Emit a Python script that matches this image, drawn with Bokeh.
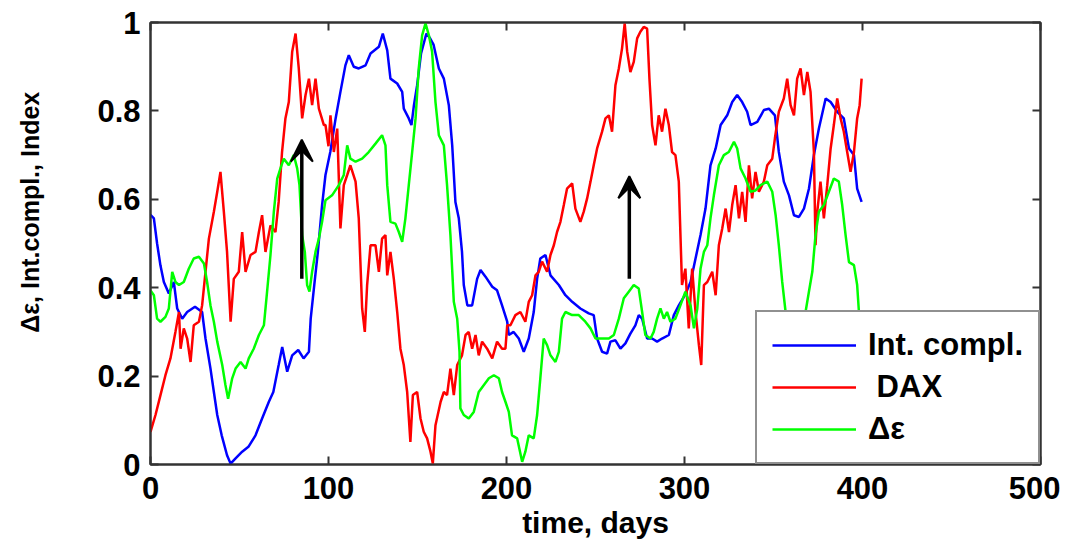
from bokeh.plotting import figure
from bokeh.models import (ColumnDataSource, Legend, LegendItem, Arrow, VeeHead,
                          LinearAxis, FixedTicker, CustomJSTickFormatter, Range1d)
from bokeh.embed import file_html
from bokeh.resources import INLINE

# ---------------- data ----------------
blue_days = [0, 1.9, 3.7, 5.6, 7.5, 10.3, 13.1, 15, 17.8, 20.6, 25, 29, 30.9, 33.7, 35.6, 37.5,
             40, 43, 45, 47.8, 51.5, 55, 59, 62.7, 66.5, 69, 72, 74, 76.8, 79.6, 83, 86, 89, 90,
             92, 94, 96.4, 98.3, 101, 104, 106.7, 109.5, 111.4, 114.2, 117, 120.8, 123.6, 128.3,
             130.5, 133, 134.8, 138.6, 141.4, 142.3, 145.1, 146.6, 148, 149.8, 152, 155, 157, 159,
             162, 164.8, 167.6, 169.5, 171.3, 173.2, 175, 176, 178, 180.7, 183.5, 185.4, 188.2,
             192, 194.7, 197.5, 200.4, 201.3, 204, 206.9, 209.7, 212.5, 215.3, 217.2, 219, 221.9,
             224.7, 229.4, 233.1, 236.9, 241.5, 246.2, 249, 250.9, 253.7, 256.5, 258.4, 261.2,
             264, 266.8, 269.6, 272.4, 274.3, 276.2, 279, 281.8, 284.6, 287.4, 291.2, 294, 296.8,
             300.5, 303.4, 306.2, 309, 311.8, 314.6, 317.5, 320.3, 324, 326.8, 329.6, 332.4,
             335.2, 337.1, 340.9, 344.6, 347.4, 350.8, 353, 355.8, 358.7, 361.5, 364.3, 367.1,
             369.9, 372.7, 375.5, 379.3, 382.1, 385.8, 389.5, 392.4, 395.2, 397, 399.5]
blue_vals = [0.565, 0.557, 0.50, 0.45, 0.413, 0.387, 0.413, 0.353, 0.33, 0.345, 0.357, 0.345,
             0.285, 0.217, 0.164, 0.112, 0.066, 0.021, 0.002, 0.014, 0.029, 0.04, 0.066, 0.104,
             0.142, 0.164, 0.225, 0.266, 0.21, 0.247, 0.259, 0.24, 0.255, 0.33, 0.406, 0.48,
             0.587, 0.655, 0.707, 0.783, 0.843, 0.903, 0.926, 0.90, 0.896, 0.903, 0.93, 0.945,
             0.975, 0.937, 0.873, 0.862, 0.843, 0.805, 0.783, 0.768, 0.813, 0.858, 0.93, 0.975,
             0.965, 0.95, 0.896, 0.873, 0.813, 0.722, 0.594, 0.557, 0.481, 0.406, 0.36, 0.36,
             0.42, 0.44, 0.425, 0.402, 0.394, 0.36, 0.323, 0.293, 0.30, 0.285, 0.255, 0.285,
             0.345, 0.42, 0.466, 0.474, 0.428, 0.406, 0.383, 0.368, 0.353, 0.342, 0.338, 0.285,
             0.255, 0.251, 0.278, 0.281, 0.262, 0.274, 0.296, 0.315, 0.338, 0.33, 0.285, 0.285,
             0.278, 0.285, 0.293, 0.338, 0.36, 0.385, 0.413, 0.466, 0.519, 0.579, 0.677, 0.715,
             0.768, 0.79, 0.82, 0.836, 0.82, 0.798, 0.768, 0.775, 0.802, 0.805, 0.79, 0.707,
             0.64, 0.609, 0.564, 0.56, 0.579, 0.624, 0.70, 0.76, 0.828, 0.82, 0.798, 0.783,
             0.715, 0.70, 0.624, 0.594]

red_days = [0, 2.8, 5.6, 8.4, 11.2, 14, 16, 16.9, 18.7, 20.6, 22.5, 24.3, 27.2, 29, 30.9, 32.8,
            35.6, 37.5, 39.3, 41.2, 43, 45, 46.8, 49.6, 51.5, 53.4, 56.2, 59, 60.9, 62.7, 64.6,
            67.4, 70.2, 72, 73.9, 75.8, 77.7, 79.6, 81.5, 83.3, 85.2, 87.1, 89, 90.8, 92.7, 94.6,
            97.4, 98.3, 100, 101.1, 103, 104.9, 106.7, 108.6, 110.5, 112.3, 115.2, 117, 118.9,
            120.4, 121.7, 123.6, 126.4, 128.3, 130.1, 132, 133, 134.8, 136.7, 138.6, 140.4, 142.3,
            144.2, 146, 147.4, 149.8, 151.7, 153.5, 155.4, 157.3, 158.6, 160.1, 163, 164.8, 166.6,
            168.5, 170.4, 172.3, 175, 177, 178.8, 180.7, 182.6, 184.4, 186.3, 189.1, 192, 194.7,
            197.5, 199.4, 200.4, 202.2, 205, 207.8, 210.6, 212.5, 214.4, 216.3, 218.1, 220, 222.8,
            224.7, 226.6, 228.4, 230.3, 232.2, 234, 236.9, 238.7, 241.5, 243.4, 245.3, 247.2, 249,
            250.9, 253.7, 255.6, 257.5, 259.3, 261.2, 263.1, 264.9, 266.4, 267.8, 269.6, 271.5,
            273.4, 275.2, 277.1, 279, 280.3, 281.8, 283.7, 285.5, 287.4, 289.3, 291.2, 293, 294.9,
            296.8, 298.6, 300.5, 302.4, 304.3, 306.2, 308.1, 309.4, 310.9, 312.8, 315.6, 317.5,
            319.3, 321.2, 323.1, 325, 326.8, 328.7, 330.6, 332.4, 334.3, 336.2, 338, 339.9, 341.8,
            344.6, 346.5, 349.3, 350.8, 353, 355.8, 357.7, 359.6, 361.5, 363.3, 365.2, 367.1, 369,
            370.8, 372.7, 373.6, 374.6, 376.4, 378.3, 380.2, 382.1, 383.9, 385.8, 387.7, 389.5,
            391.4, 393.3, 395.2, 397, 398.4, 399.5]
red_vals = [0.074, 0.112, 0.157, 0.202, 0.24, 0.30, 0.345, 0.262, 0.308, 0.285, 0.232, 0.315,
            0.323, 0.36, 0.436, 0.511, 0.572, 0.617, 0.662, 0.572, 0.481, 0.323, 0.42, 0.436,
            0.526, 0.436, 0.474, 0.481, 0.526, 0.564, 0.481, 0.541, 0.526, 0.594, 0.707, 0.783,
            0.82, 0.934, 0.975, 0.896, 0.783, 0.836, 0.873, 0.813, 0.873, 0.805, 0.768, 0.768,
            0.72, 0.79, 0.707, 0.76, 0.534, 0.632, 0.655, 0.677, 0.64, 0.557, 0.353, 0.30, 0.406,
            0.496, 0.496, 0.436, 0.511, 0.519, 0.428, 0.481, 0.42, 0.345, 0.262, 0.225, 0.164,
            0.051, 0.157, 0.164, 0.104, 0.074, 0.059, 0.029, 0.002, 0.089, 0.142, 0.164, 0.157,
            0.217, 0.157, 0.225, 0.247, 0.293, 0.30, 0.262, 0.293, 0.247, 0.278, 0.262, 0.24,
            0.278, 0.262, 0.262, 0.315, 0.315, 0.338, 0.345, 0.323, 0.368, 0.383, 0.428, 0.436,
            0.459, 0.436, 0.474, 0.496, 0.526, 0.549, 0.587, 0.624, 0.636, 0.579, 0.549, 0.572,
            0.602, 0.64, 0.677, 0.715, 0.753, 0.783, 0.79, 0.753, 0.858, 0.896, 0.941, 0.998,
            0.934, 0.888, 0.911, 0.964, 0.979, 0.99, 0.986, 0.873, 0.768, 0.722, 0.79, 0.753,
            0.805, 0.768, 0.707, 0.70, 0.64, 0.406, 0.443, 0.308, 0.443, 0.345, 0.27, 0.225,
            0.406, 0.413, 0.436, 0.383, 0.496, 0.534, 0.579, 0.526, 0.587, 0.632, 0.557, 0.617,
            0.549, 0.677, 0.602, 0.662, 0.617, 0.64, 0.677, 0.692, 0.738, 0.798, 0.828, 0.873,
            0.813, 0.79, 0.873, 0.896, 0.836, 0.888, 0.843, 0.707, 0.496, 0.572, 0.64, 0.557,
            0.632, 0.715, 0.768, 0.828, 0.783, 0.753, 0.707, 0.662, 0.707, 0.783, 0.813, 0.873]

green_days = [0, 1.9, 3.7, 5.6, 8.4, 10.3, 12.2, 14, 16, 18.7, 21.5, 24.3, 27.2, 30, 31.8, 33.7,
              35.6, 37.5, 40.3, 42.1, 43.6, 45.9, 47.8, 50.6, 53.4, 55.2, 58, 60.9, 63.7, 65.5,
              67.4, 69.3, 71.2, 73, 74.9, 77.7, 80.5, 82.4, 83.7, 85.2, 86.7, 88, 89.3, 90.8,
              92.7, 94.6, 96.4, 98.3, 102, 105.8, 108.6, 110.5, 112.3, 115.2, 118.9, 122.6, 126.4,
              130.1, 132, 133, 134.8, 137.6, 139.5, 141.4, 143.2, 145.1, 147, 148.9, 150.7, 152.6,
              154.5, 156.4, 158.2, 160.1, 162, 164.8, 166.6, 168.5, 170.4, 172.3, 173.6, 174.1,
              176, 178.8, 181.6, 184.4, 187.3, 190.1, 192.9, 195.7, 197.5, 199.4, 201.3, 203.1,
              206, 208.8, 210.6, 212.5, 215.3, 217.2, 219, 220.9, 222.8, 224.7, 227.5, 229.4,
              231.2, 233.1, 236.9, 240.6, 244.3, 247.2, 250, 253.7, 257.5, 260.3, 263.1, 265.9,
              268.7, 271.5, 274.3, 276.2, 278, 280.9, 282.7, 284.6, 286.5, 288.4, 290.2, 292.1,
              294.9, 297.7, 300.5, 303.4, 305.3, 307.2, 309, 310.9, 312.8, 314.6, 316.5, 319.3,
              322.1, 324.9, 327.8, 329.6, 331.5, 334.3, 337.1, 339.9, 342.7, 346.5, 349.3, 351.2,
              353, 354.9, 356.8, 360, 364, 368, 369.9, 371.8, 373.6, 375.5, 378.3, 381.1, 383.9,
              386.7, 388.6, 390.5, 392.4, 395.2, 397, 398, 400]
green_vals = [0.394, 0.383, 0.33, 0.323, 0.334, 0.353, 0.436, 0.413, 0.406, 0.413, 0.443, 0.466,
              0.47, 0.455, 0.413, 0.36, 0.323, 0.278, 0.225, 0.18, 0.149, 0.195, 0.217, 0.232,
              0.217, 0.24, 0.262, 0.293, 0.315, 0.391, 0.474, 0.572, 0.647, 0.67, 0.692, 0.677,
              0.70, 0.67, 0.632, 0.519, 0.481, 0.406, 0.391, 0.436, 0.481, 0.511, 0.549, 0.598,
              0.609, 0.632, 0.655, 0.722, 0.692, 0.685, 0.692, 0.707, 0.726, 0.745, 0.722, 0.632,
              0.549, 0.545, 0.526, 0.504, 0.557, 0.632, 0.707, 0.783, 0.896, 0.971, 0.998, 0.971,
              0.934, 0.82, 0.745, 0.722, 0.632, 0.519, 0.368, 0.33, 0.255, 0.127, 0.112, 0.104,
              0.119, 0.164, 0.18, 0.195, 0.202, 0.195, 0.164, 0.142, 0.119, 0.066, 0.059, 0.006,
              0.029, 0.066, 0.059, 0.112, 0.195, 0.285, 0.27, 0.247, 0.232, 0.255, 0.33, 0.345,
              0.338, 0.338, 0.323, 0.308, 0.285, 0.285, 0.285, 0.293, 0.33, 0.376, 0.391, 0.406,
              0.398, 0.345, 0.293, 0.285, 0.30, 0.33, 0.353, 0.33, 0.345, 0.323, 0.33, 0.36, 0.391,
              0.36, 0.308, 0.353, 0.443, 0.481, 0.496, 0.557, 0.609, 0.677, 0.70, 0.707, 0.73,
              0.715, 0.67, 0.647, 0.617, 0.62, 0.632, 0.64, 0.617, 0.564, 0.496, 0.413, 0.345,
              0.30, 0.29, 0.345, 0.391, 0.436, 0.519, 0.572, 0.587, 0.617, 0.647, 0.64, 0.587,
              0.519, 0.458, 0.451, 0.406, 0.345, 0.30]

series_labels = ["Int. compl.", " DAX", "\u0394\u03b5"]
series_colors = ["#0000FF", "#FF0000", "#00FF00"]

arrow_x = [85, 269]
arrow_y_start = [0.42, 0.42]
arrow_y_end = [0.735, 0.652]

x_ticks = [0, 100, 200, 300, 400, 500]
y_ticks = [0, 0.2, 0.4, 0.6, 0.8, 1]

x_title = "time, days"
y_title = "\u0394\u03b5, Int.compl., Index"

FONT = "Liberation Sans"

p = figure(frame_width=890, frame_height=442, min_border_left=150, min_border_top=22,
           min_border_right=20, min_border_bottom=10,
           x_range=Range1d(0, 500), y_range=Range1d(0, 1),
           output_backend="svg", toolbar_location=None,
           x_axis_label=x_title, y_axis_label="\u00a0" * 9 + y_title)
p.xgrid.visible = False
p.ygrid.visible = False
p.outline_line_color = "#333333"
p.outline_line_width = 2
p.background_fill_color = "white"
p.border_fill_color = "white"

r_blue = p.line(blue_days, blue_vals, line_color=series_colors[0], line_width=2.5)
r_red = p.line(red_days, red_vals, line_color=series_colors[1], line_width=2.5)
r_green = p.line(green_days, green_vals, line_color=series_colors[2], line_width=2.5)

arrow_src = ColumnDataSource(dict(x=arrow_x, y0=arrow_y_start, y1=arrow_y_end))
p.add_layout(Arrow(end=VeeHead(size=22, fill_color="black", line_color="black", line_width=2),
                   x_start="x", y_start="y0", x_end="x", y_end="y1", source=arrow_src,
                   line_color="black", line_width=3.5))

for ax, ticks in ((p.xaxis[0], x_ticks), (p.yaxis[0], y_ticks)):
    ax.ticker = FixedTicker(ticks=ticks)
    ax.formatter = CustomJSTickFormatter(code="return String(tick);")
    ax.major_tick_in = 8
    ax.major_tick_out = 0
    ax.minor_tick_line_color = None
    ax.axis_line_color = "#333333"
    ax.axis_line_width = 2
    ax.major_tick_line_color = "#333333"
    ax.major_tick_line_width = 2
    ax.major_label_text_font = FONT
    ax.major_label_text_font_style = "bold"
    ax.major_label_text_font_size = "31px"
    ax.major_label_text_color = "black"
    ax.axis_label_text_font = FONT
    ax.axis_label_text_font_style = "bold"
    ax.axis_label_text_color = "black"

p.xaxis[0].axis_label_text_font_size = "30px"
p.yaxis[0].axis_label_text_font_size = "25px"

p.xaxis[0].major_label_standoff = 12
p.xaxis[0].axis_label_standoff = 4
p.yaxis[0].major_label_standoff = 10
p.yaxis[0].axis_label_standoff = 50

for loc, ticks in (("above", x_ticks), ("right", y_ticks)):
    ax = LinearAxis(ticker=FixedTicker(ticks=ticks),
                    formatter=CustomJSTickFormatter(code="return '';"),
                    major_tick_in=8, major_tick_out=0, minor_tick_line_color=None,
                    axis_line_color="#333333", axis_line_width=2,
                    major_tick_line_color="#333333", major_tick_line_width=2,
                    major_label_standoff=0)
    p.add_layout(ax, loc)

legend = Legend(items=[LegendItem(label=series_labels[0], renderers=[r_blue]),
                       LegendItem(label=series_labels[1], renderers=[r_red]),
                       LegendItem(label=series_labels[2], renderers=[r_green])],
                location="bottom_right", margin=0, padding=15, spacing=6,
                glyph_width=84, glyph_height=36, label_standoff=12,
                label_text_font=FONT, label_text_font_style="bold",
                label_text_font_size="31px", label_text_color="black",
                border_line_color="#222222", border_line_width=2,
                background_fill_color="white", background_fill_alpha=1)
p.add_layout(legend)

open("out.html", "w").write(file_html(p, INLINE))
